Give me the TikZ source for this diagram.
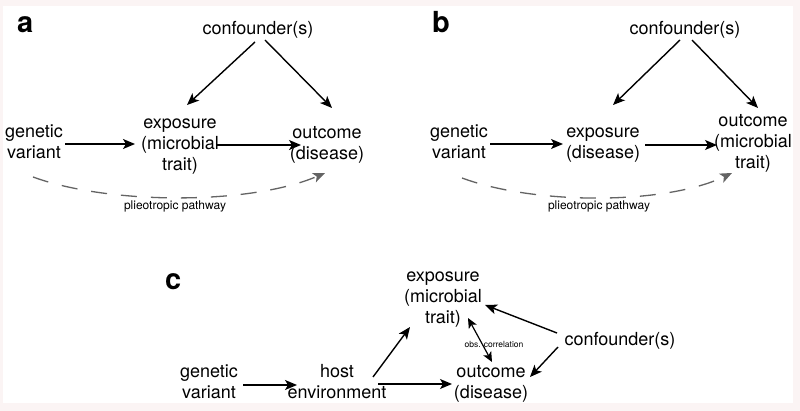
\documentclass[tikz,border=0pt]{standalone}
\usepackage{fontspec}
\setmainfont{TeX Gyre Heros}
\usetikzlibrary{arrows.meta,calc}
\definecolor{bgpink}{RGB}{251,244,244}
\definecolor{dashgrey}{RGB}{100,100,100}
\begin{document}
\begin{tikzpicture}[x=1pt,y=-1pt,
  lbl/.style={inner sep=0pt, font=\fontsize{18}{21}\selectfont, align=center},
  panel/.style={inner sep=0pt, anchor=base west, font=\fontsize{29}{30}\selectfont\bfseries},
  small/.style={inner sep=0pt, font=\fontsize{12}{13}\selectfont},
  tiny/.style={inner sep=0pt, font=\fontsize{8.5}{9}\selectfont},
  arr/.style={line width=1.4pt, -{Stealth[length=12pt,width=10pt,inset=3pt]}},
  dbl/.style={line width=1.2pt, {Stealth[length=10pt,width=9pt,inset=2.5pt]}-{Stealth[length=10pt,width=9pt,inset=2.5pt]}},
  dasharr/.style={line width=1.3pt, draw=dashgrey, dash pattern=on 16pt off 14pt, -{Stealth[length=12pt,width=10pt,inset=3pt,fill=dashgrey]}},
]
\fill[bgpink] (0,0) rectangle (800,411);
\fill[white] (3,6) rectangle (793,403);

% ---------- panel a ----------
\node[panel] (la) at (17,33) {a};
\node[lbl] (ca) at (258,30) {\strut confounder(s)};
\node[lbl] (ga) at (34,144) {\strut genetic\\\strut variant};
\node[lbl] (ea) at (180,145) {\strut exposure\\\strut (microbial\\\strut trait)};
\node[lbl] (oa) at (327,145) {\strut outcome\\\strut (disease)};
\node[small] (pa) at (175,206) {plieotropic pathway};

\draw[arr] ($(ca.center)+(-3,12)$) -- ($(ea.center)+(7,-40)$);
\draw[arr] ($(ca.center)+(7,10)$) -- ($(oa.center)+(5,-37)$);
\draw[arr] ($(ga.center)+(31,0)$) -- ($(ea.center)+(-45,-1)$);
\draw[arr] ($(ea.center)+(37,0)$) -- ($(oa.center)+(-26,0)$);
\draw[dasharr] ($(ga.center)+(-1,33)$) .. controls (110,205) and (250,205) .. ($(oa.center)+(-2,28)$);

% ---------- panel b ----------
\node[panel] (lb) at (432,33) {b};
\node[lbl] (cb) at (685,30) {\strut confounder(s)};
\node[lbl] (gb) at (459,144) {\strut genetic\\\strut variant};
\node[lbl] (eb) at (603,144) {\strut exposure\\\strut (disease)};
\node[lbl] (ob) at (753,143) {\strut outcome\\\strut (microbial\\\strut trait)};
\node[small] (pb) at (599,206) {plieotropic pathway};

\draw[arr] ($(cb.center)+(-5,10)$) -- ($(eb.center)+(10,-39)$);
\draw[arr] ($(cb.center)+(7,10)$) -- ($(ob.center)+(5,-35)$);
\draw[arr] ($(gb.center)+(31,0)$) -- ($(eb.center)+(-40,0)$);
\draw[arr] ($(eb.center)+(42,1)$) -- ($(ob.center)+(-36,2)$);
\draw[dasharr] ($(gb.center)+(3,34)$) .. controls (535,205) and (665,205) .. ($(ob.center)+(-21,30)$);

% ---------- panel c ----------
\node[panel] (lc) at (165,290) {c};
\node[lbl] (gc) at (209,384) {\strut genetic\\\strut variant};
\node[lbl] (hc) at (337,384) {\strut host\\\strut environment};
\node[lbl] (ec) at (443,298) {\strut exposure\\\strut (microbial\\\strut trait)};
\node[lbl] (oc) at (491,384) {\strut outcome\\\strut (disease)};
\node[lbl] (cc) at (620,341) {\strut confounder(s)};

\draw[arr] ($(gc.center)+(34,1)$) -- ($(hc.center)+(-40,1)$);
\draw[arr] ($(hc.center)+(36,-7)$) -- ($(ec.center)+(-33,29)$);
\draw[arr] ($(hc.center)+(41,0)$) -- ($(oc.center)+(-39,0)$);
\draw[arr] ($(cc.center)+(-63,-8)$) -- ($(ec.center)+(42,7)$);
\draw[arr] ($(cc.center)+(-62,6)$) -- ($(oc.center)+(39,-7)$);
\draw[dbl] ($(ec.center)+(25,20)$) -- ($(oc.center)+(1,-22)$);
\node[tiny] (obs) at (494,344) {obs. correlation};
\end{tikzpicture}
\end{document}
